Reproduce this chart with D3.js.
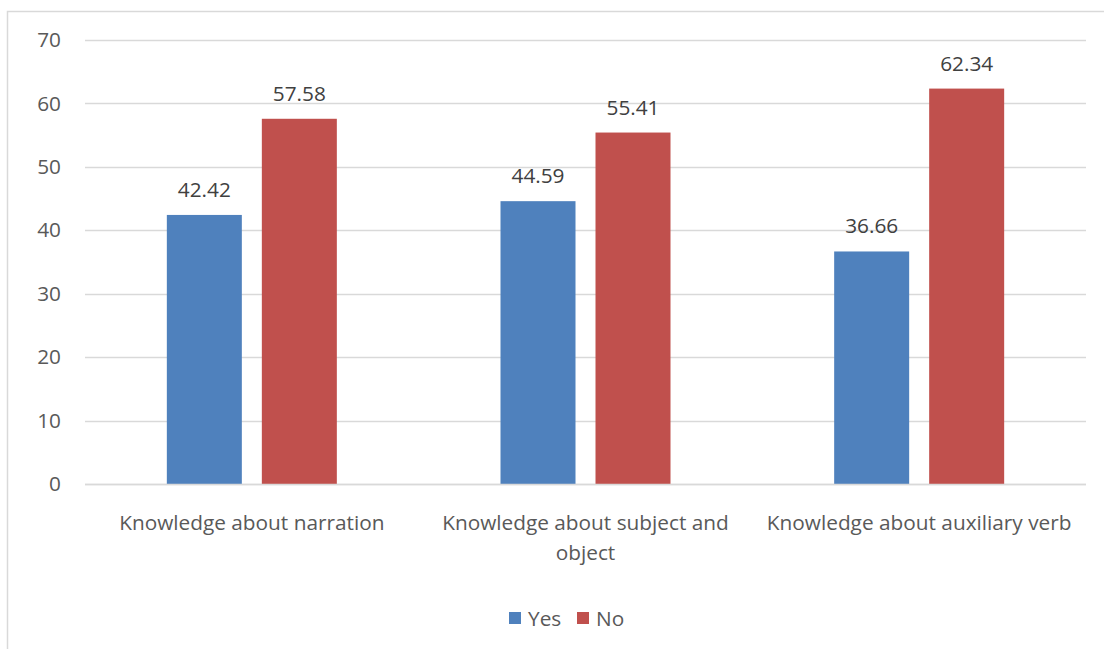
<!DOCTYPE html>
<html><head><meta charset="utf-8">
<script src="https://cdn.jsdelivr.net/npm/d3@7"></script>
<style>body{margin:0;background:#fff}svg{display:block;font-family:"Open Sans",sans-serif}</style>
</head><body><svg id="c" width="1104" height="649"></svg>
<script>
const categories = ["Knowledge about narration", "Knowledge about subject and object", "Knowledge about auxiliary verb"];
const seriesNames = ["Yes", "No"];
const yesValues = [42.42, 44.59, 36.66];
const noValues = [57.58, 55.41, 62.34];
const yTicks = [0, 10, 20, 30, 40, 50, 60, 70];
const colors = ["#4F81BD", "#C0504D"];
const FS = 20.8;

const svg = d3.select("#c");
svg.append("rect").attr("x", 7.5).attr("y", 11.5).attr("width", 1110).attr("height", 650)
  .attr("fill", "none").attr("stroke", "#D9D9D9").attr("stroke-width", 1.5);

const x0 = d3.scaleBand().domain(categories).range([85, 1086]).paddingInner(0).paddingOuter(0);
const y = d3.scaleLinear().domain([0, 70]).range([484, 40]);

const grid = svg.append("g");
grid.selectAll("line").data(yTicks).join("line")
  .attr("x1", 85).attr("x2", 1086).attr("y1", d => Math.round(y(d)) + 0.5).attr("y2", d => Math.round(y(d)) + 0.5)
  .attr("stroke", "#D9D9D9").attr("stroke-width", 1.3);

const yAxis = svg.append("g").attr("transform", "translate(61,0)")
  .call(d3.axisLeft(y).tickValues(yTicks).tickSize(0).tickPadding(0));
yAxis.select(".domain").remove();
yAxis.selectAll("text").attr("font-size", FS).attr("fill", "#595959").attr("font-family", "Open Sans");

const barW = 75, gap = 20;
const data = categories.map((c, i) => ({c, vals: [yesValues[i], noValues[i]]}));
const g = svg.append("g");
data.forEach(d => {
  const cx = x0(d.c) + x0.bandwidth() / 2;
  d.vals.forEach((v, j) => {
    const bx = j === 0 ? cx - gap / 2 - barW : cx + gap / 2;
    g.append("rect").attr("x", bx).attr("y", y(v)).attr("width", barW).attr("height", y(0) - y(v))
      .attr("fill", colors[j]);
    g.append("text").attr("x", bx + barW / 2).attr("y", y(v) - 18).attr("text-anchor", "middle")
      .attr("font-size", FS).attr("fill", "#404040").text(v.toFixed(2));
  });
});

svg.append("line").attr("x1", 85).attr("x2", 1086).attr("y1", 484.5).attr("y2", 484.5)
  .attr("stroke", "#D9D9D9").attr("stroke-width", 1.3);

const maxW = 318;
categories.forEach(c => {
  const cx = x0(c) + x0.bandwidth() / 2;
  const t = svg.append("text").attr("x", cx).attr("y", 530).attr("text-anchor", "middle")
    .attr("font-size", FS).attr("fill", "#595959");
  const words = c.split(" ");
  let line = [];
  let ts = t.append("tspan").attr("x", cx).attr("dy", 0);
  words.forEach(w => {
    line.push(w);
    ts.text(line.join(" "));
    if (ts.node().getComputedTextLength() > maxW && line.length > 1) {
      line.pop(); ts.text(line.join(" "));
      line = [w];
      ts = t.append("tspan").attr("x", cx).attr("dy", 30).text(w);
    }
  });
});

const leg = svg.append("g");
const items = [{n: seriesNames[0], c: colors[0], x: 509}, {n: seriesNames[1], c: colors[1], x: 577}];
items.forEach(it => {
  leg.append("rect").attr("x", it.x).attr("y", 612).attr("width", 12).attr("height", 12).attr("fill", it.c);
  leg.append("text").attr("x", it.x + 19).attr("y", 626).attr("font-size", FS).attr("fill", "#595959").text(it.n);
});
</script></body></html>
